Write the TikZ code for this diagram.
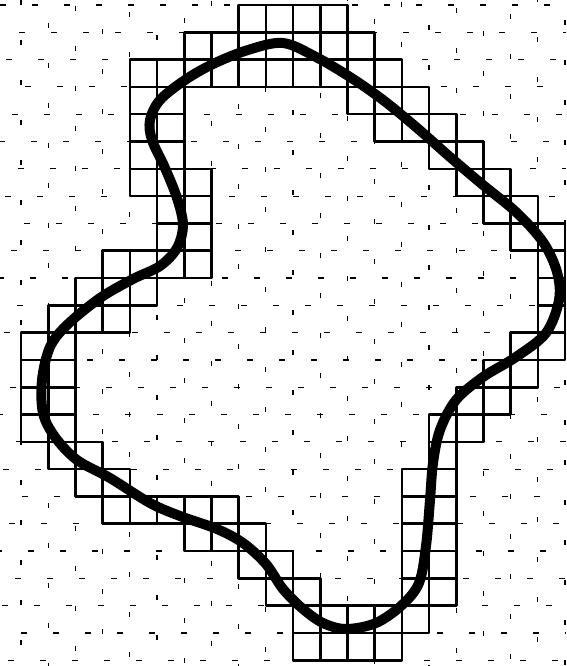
\documentclass[tikz,border=0pt]{standalone}
\begin{document}
\begin{tikzpicture}[x=1pt,y=-1pt,
  bggrid/.style={line width=1.2pt},
  cellbox/.style={draw=black, line width=2.6pt, line join=round},
  contour/.style={line width=10pt, line join=round}]
\useasboundingbox (0,0) rectangle (566,666);
\fill[white] (0,0) rectangle (566,666);
% faint background grid
\foreach \j in {0,...,24} {
  \pgfmathsetmacro\ph{mod(13*\j,32)}
  \draw[bggrid, dash pattern=on 6pt off 26pt, dash phase=\ph pt] (0,{5+27.3*\j}) -- (566,{5+27.3*\j});
}
\foreach \i in {0,...,20} {
  \pgfmathsetmacro\ph{mod(17*\i,40)}
  \draw[bggrid, dash pattern=on 5pt off 35pt, dash phase=\ph pt] ({21+27.2*\i},0) -- ({21+27.2*\i},666);
}
% cells crossed by the contour
\def\celllist{8/0,9/0,10/0,11/0,
 6/1,7/1,8/1,9/1,10/1,11/1,12/1,
 4/2,5/2,6/2,7/2,8/2,9/2,10/2,11/2,12/2,13/2,
 4/3,5/3,12/3,13/3,14/3,
 4/4,5/4,13/4,14/4,15/4,
 4/5,5/5,15/5,16/5,
 4/6,5/6,6/6,16/6,17/6,
 5/7,6/7,17/7,18/7,
 5/8,6/8,18/8,19/8,
 3/9,4/9,5/9,6/9,19/9,
 2/10,3/10,4/10,19/10,
 1/11,2/11,3/11,19/11,
 0/12,1/12,18/12,19/12,
 0/13,1/13,17/13,18/13,
 0/14,1/14,16/14,17/14,
 0/15,1/15,15/15,16/15,
 1/16,2/16,15/16,
 2/17,3/17,14/17,15/17,
 3/18,4/18,5/18,6/18,7/18,14/18,15/18,
 6/19,7/19,8/19,14/19,15/19,
 8/20,9/20,14/20,15/20,
 9/21,10/21,14/21,15/21,
 10/22,11/22,12/22,13/22,14/22,
 10/23,11/23,12/23,13/23}
\foreach \i/\j in \celllist
  \fill[white] ({21+27.2*\i},{5+27.3*\j}) rectangle +(27.2,27.3);
\foreach \i/\j in \celllist
  \draw[cellbox] ({21+27.2*\i},{5+27.3*\j}) rectangle +(27.2,27.3);
% contour
\draw[contour] plot[smooth cycle, tension=0.55] coordinates {
 (283,43) (316,57) (350,77) (383,100) (416,127) (450,157) (483,185)
 (516,212) (543,242) (557,272) (559,300) (546,333) (516,357) (483,377)
 (456,400) (440,430) (433,463) (430,500) (426,546) (419,583) (402,605)
 (376,623) (346,629) (323,623) (303,609) (283,589) (266,564) (243,543)
 (217,529) (180,516) (150,503) (110,478) (77,460) (55,437) (43,413)
 (42,380) (50,347) (67,325) (100,298) (133,279) (160,266) (177,248)
 (183,225) (177,198) (165,168) (152,140) (150,120) (160,100) (185,80)
 (213,64) (248,50)};
\end{tikzpicture}
\end{document}
